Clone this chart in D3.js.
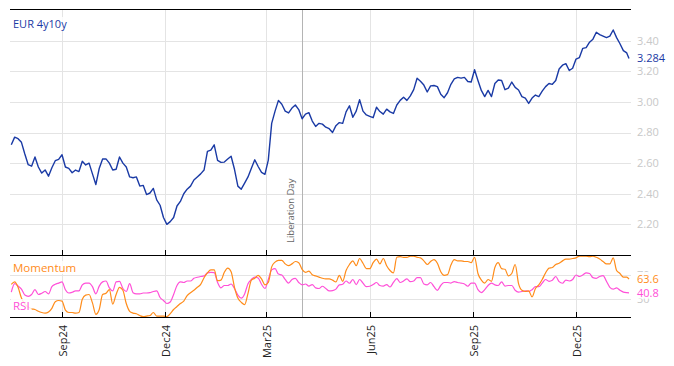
<!DOCTYPE html>
<html><head><meta charset="utf-8">
<script src="https://cdn.jsdelivr.net/npm/d3@7"></script>
<style>
html,body{margin:0;padding:0;background:#fff;}
svg{display:block;font-family:"Open Sans","Noto Sans",sans-serif;}
</style></head><body>
<svg id="chart" width="674" height="366"></svg>
<script>
const dates = [
"2024-07-18","2024-07-21","2024-07-24","2024-07-27","2024-07-30","2024-08-02","2024-08-05","2024-08-08","2024-08-11","2024-08-14",
"2024-08-17","2024-08-20","2024-08-23","2024-08-26","2024-08-29","2024-09-01","2024-09-04","2024-09-07","2024-09-10","2024-09-13",
"2024-09-16","2024-09-19","2024-09-22","2024-09-25","2024-09-28","2024-10-01","2024-10-04","2024-10-07","2024-10-10","2024-10-13",
"2024-10-16","2024-10-19","2024-10-22","2024-10-25","2024-10-28","2024-10-31","2024-11-03","2024-11-06","2024-11-09","2024-11-12",
"2024-11-15","2024-11-18","2024-11-21","2024-11-24","2024-11-27","2024-11-30","2024-12-03","2024-12-06","2024-12-09","2024-12-12",
"2024-12-15","2024-12-18","2024-12-21","2024-12-24","2024-12-27","2024-12-30","2025-01-02","2025-01-05","2025-01-08","2025-01-11",
"2025-01-14","2025-01-17","2025-01-20","2025-01-23","2025-01-26","2025-01-29","2025-02-01","2025-02-04","2025-02-07","2025-02-10",
"2025-02-13","2025-02-16","2025-02-19","2025-02-22","2025-02-25","2025-02-28","2025-03-03","2025-03-06","2025-03-09","2025-03-12",
"2025-03-15","2025-03-18","2025-03-21","2025-03-24","2025-03-27","2025-03-30","2025-04-02","2025-04-05","2025-04-08","2025-04-11",
"2025-04-14","2025-04-17","2025-04-20","2025-04-23","2025-04-26","2025-04-29","2025-05-02","2025-05-05","2025-05-08","2025-05-11",
"2025-05-14","2025-05-17","2025-05-20","2025-05-23","2025-05-26","2025-05-29","2025-06-01","2025-06-04","2025-06-07","2025-06-10",
"2025-06-13","2025-06-16","2025-06-19","2025-06-22","2025-06-25","2025-06-28","2025-07-01","2025-07-04","2025-07-07","2025-07-10",
"2025-07-13","2025-07-16","2025-07-19","2025-07-22","2025-07-25","2025-07-28","2025-07-31","2025-08-03","2025-08-06","2025-08-09",
"2025-08-12","2025-08-15","2025-08-18","2025-08-21","2025-08-24","2025-08-27","2025-08-30","2025-09-02","2025-09-05","2025-09-08",
"2025-09-11","2025-09-14","2025-09-17","2025-09-20","2025-09-23","2025-09-26","2025-09-29","2025-10-02","2025-10-05","2025-10-08",
"2025-10-11","2025-10-14","2025-10-17","2025-10-20","2025-10-23","2025-10-26","2025-10-29","2025-11-01","2025-11-04","2025-11-07",
"2025-11-10","2025-11-13","2025-11-16","2025-11-19","2025-11-22","2025-11-25","2025-11-28","2025-12-01","2025-12-04","2025-12-07",
"2025-12-10","2025-12-13","2025-12-16","2025-12-19","2025-12-22","2025-12-25","2025-12-28","2025-12-31","2026-01-03","2026-01-06",
"2026-01-09","2026-01-12","2026-01-15","2026-01-17"];

const eur4y10y = [
2.72,2.77,2.76,2.736,2.66,2.59,2.58,2.64,2.575,2.535,
2.556,2.515,2.57,2.616,2.625,2.655,2.575,2.566,2.537,2.555,
2.545,2.612,2.588,2.60,2.53,2.46,2.565,2.627,2.628,2.60,
2.555,2.56,2.64,2.60,2.575,2.51,2.505,2.51,2.45,2.455,
2.395,2.405,2.435,2.36,2.325,2.245,2.20,2.218,2.245,2.32,
2.35,2.40,2.43,2.45,2.49,2.51,2.53,2.555,2.677,2.685,
2.72,2.618,2.605,2.607,2.627,2.645,2.56,2.45,2.43,2.47,
2.51,2.567,2.622,2.578,2.54,2.527,2.62,2.86,2.94,3.01,
2.985,2.94,2.928,2.96,2.98,2.95,2.89,2.92,2.93,2.875,
2.84,2.86,2.855,2.835,2.825,2.80,2.845,2.865,2.86,2.935,
2.975,2.90,2.94,3.015,2.94,2.915,2.905,2.897,2.965,2.937,
2.92,2.953,2.935,2.925,2.98,3.01,3.03,3.01,3.04,3.08,
3.155,3.135,3.11,3.065,3.105,3.107,3.10,3.05,3.028,3.06,
3.115,3.15,3.16,3.155,3.16,3.133,3.13,3.21,3.14,3.075,
3.035,3.075,3.035,3.12,3.143,3.14,3.08,3.09,3.13,3.095,
3.078,3.035,3.025,2.99,3.025,3.045,3.035,3.07,3.10,3.12,
3.115,3.14,3.215,3.24,3.25,3.205,3.22,3.28,3.29,3.35,
3.355,3.39,3.41,3.455,3.44,3.43,3.42,3.43,3.47,3.42,
3.38,3.335,3.32,3.284];

const momentum = [
55,59,50,32,22,17,14,13,10,8,
7,9,15,26,28,27,12,8,8,7,
8,30,37,38,24,5,13,38,40,46,
22,38,50,45,23,10,7,6,3,1,
2,3,8,2,2,2,1,6,13,18,
23,27,36,41,45,50,55,66,74,79,
79,61,62,75,82,76,50,32,25,21,
40,62,65,70,64,54,58,84,92,95,
95,89,86,89,93,91,80,75,77,71,
69,67,65,64,64,62,59,70,60,78,
88,94,86,98,90,81,81,91,97,89,
98,86,78,74,100,101,100,100,102,102,
100,99,94,88,93,96,90,76,70,71,
87,96,94,94,93,93,91,100,73,62,
57,63,60,83,91,81,80,69,73,88,
56,45,43,44,34,48,54,63,74,82,
83,88,90,94,97,97,98,99,102,102,
102,101,102,100,97,93,89,89,99,78,
73,67,67,63.6];

const rsi = [
42,56,52,47,37,35,38,46,38,40,
43,39,51,55,57,59,46,40.5,41.7,44,
44,54,57,57,51,39,52,59,60.5,49,
44,59,60,48,43,56,41,39,39,40.5,
40.5,41,43,44,33,28,23,25.6,38,53,
59,58,60.5,60.5,65,66.7,68,69,74,75,
74.4,58,49,53,53,55.5,48,37,32,39,
56,63,67,65.5,55,48,63,79,81,72,
70.5,63,57,63,65,58,54,55.5,52,54.5,
49,48,51.7,48,44,44.5,47,54,55,60.5,
56.7,63,54.5,63,57,51,51.7,54.5,58,53,
52,54.5,50.5,58,64.4,58,60.5,64,59.4,60.5,
66,66,55.5,54,58,51,45,53,58,58,
57,59.4,58,57,55.5,51.7,57,57,46,41,
46,53,57,54,53,59,52,53,53,45,
42,43,44,43,46,51,51,57,63,60,
61.7,68,59.4,56.7,62,60.5,63,70.5,68,70.5,
74,73,66,65,68,69.4,60,50,47,49,
45,42,41,40.8];

const priceTicks = [2.2,2.4,2.6,2.8,3.0,3.2,3.4];
const indicatorTicks = [30,70];
const monthTickDates = ["2024-09-01","2024-12-01","2025-03-01","2025-06-01","2025-09-01","2025-12-01"];
const monthTickLabels = ["Sep24","Dec24","Mar25","Jun25","Sep25","Dec25"];
const eventDates = ["2025-04-02"];
const eventLabels = ["Liberation Day"];
const seriesName = "EUR 4y10y";
const momentumName = "Momentum";
const rsiName = "RSI";

const C_MAIN = "#1a3aa5", C_MOM = "#ff8c1a", C_RSI = "#ff50d8";
const GRID = "#e4e4e4", AXIS_TXT = "#c8c8c8";

const parse = d3.utcParse("%Y-%m-%d");
const xs = dates.map(parse);
const svg = d3.select("#chart");

const X0 = 10, X1 = 631;
const TOP = 9, MID = 255, BOT = 317;

const x = d3.scaleUtc().domain(d3.extent(xs)).range([11.3, 629]);
const yMain = d3.scaleLinear().domain([2.0, 3.607]).range([MID, TOP]);
const yInd = d3.scaleLinear().domain([0, 103.3]).range([BOT + 0.3, MID + 0.3]);

const tickX = monthTickDates.map(d => Math.round(x(parse(d))) + 0.5);

// grid
const g = svg.append("g");
g.selectAll(".hg").data(priceTicks).join("line")
  .attr("x1", X0).attr("x2", X1)
  .attr("y1", d => Math.round(yMain(d)) + 0.5).attr("y2", d => Math.round(yMain(d)) + 0.5)
  .attr("stroke", GRID);
g.selectAll(".hg2").data(indicatorTicks).join("line")
  .attr("x1", X0).attr("x2", X1)
  .attr("y1", d => Math.round(yInd(d)) + 0.5).attr("y2", d => Math.round(yInd(d)) + 0.5)
  .attr("stroke", GRID);
g.selectAll(".vg").data(tickX).join("line")
  .attr("x1", d => d).attr("x2", d => d)
  .attr("y1", TOP).attr("y2", BOT)
  .attr("stroke", GRID);

// event line
eventDates.forEach((d, i) => {
  const ex = Math.round(x(parse(d))) + 0.5;
  g.append("line").attr("x1", ex).attr("x2", ex).attr("y1", TOP).attr("y2", BOT)
    .attr("stroke", "#b4b4b4");
  g.append("text").attr("transform", `translate(${ex - 8.5},243) rotate(-90)`)
    .attr("font-size", 9.5).attr("fill", "#666").text(eventLabels[i]);
});

// series
const lineMain = d3.line().x((d, i) => x(xs[i])).y(d => yMain(d)).curve(d3.curveLinear);
const lineInd = d3.line().x((d, i) => x(xs[i])).y(d => yInd(d)).curve(d3.curveMonotoneX);

svg.append("path").datum(rsi).attr("d", lineInd)
  .attr("fill", "none").attr("stroke", C_RSI).attr("stroke-width", 1.2);
svg.append("path").datum(momentum).attr("d", lineInd)
  .attr("fill", "none").attr("stroke", C_MOM).attr("stroke-width", 1.2);
svg.append("path").datum(eur4y10y).attr("d", lineMain)
  .attr("fill", "none").attr("stroke", C_MAIN).attr("stroke-width", 1.4)
  .attr("stroke-linejoin", "round");

// borders and ticks
[TOP, MID, BOT].forEach(yy => {
  svg.append("line").attr("x1", X0).attr("x2", X1).attr("y1", yy + 0.5).attr("y2", yy + 0.5)
    .attr("stroke", "#000").attr("stroke-width", 1);
});
svg.selectAll(".tk1").data(tickX).join("line")
  .attr("x1", d => d).attr("x2", d => d).attr("y1", MID - 5).attr("y2", MID)
  .attr("stroke", "#000");
svg.selectAll(".tk2").data(tickX).join("line")
  .attr("x1", d => d).attr("x2", d => d).attr("y1", BOT - 5).attr("y2", BOT)
  .attr("stroke", "#000");

// month labels
svg.selectAll(".ml").data(monthTickLabels).join("text")
  .attr("transform", (d, i) => `translate(${tickX[i] + 4},325) rotate(-90)`)
  .attr("text-anchor", "end").attr("font-size", 11).attr("fill", "#222")
  .text(d => d);

// right axis labels
svg.selectAll(".pl").data(priceTicks).join("text")
  .attr("x", 637).attr("y", d => yMain(d)).attr("dy", "0.35em")
  .attr("font-size", 11).attr("fill", AXIS_TXT).text(d => d.toFixed(2));
svg.selectAll(".il").data(indicatorTicks).join("text")
  .attr("x", 637).attr("y", d => yInd(d)).attr("dy", "0.35em")
  .attr("font-size", 11).attr("fill", AXIS_TXT).text(d => d);

// label helper with white background
function label(txt, xx, yy, col, size, dy, op) {
  const t = svg.append("text").attr("x", xx).attr("y", yy).attr("font-size", size)
    .attr("fill", col).text(txt);
  if (dy) t.attr("dy", dy);
  const b = t.node().getBBox();
  svg.insert("rect", () => t.node())
    .attr("x", b.x - 2).attr("y", b.y + 1).attr("width", b.width + 4).attr("height", b.height - 2)
    .attr("fill", "#fff").attr("fill-opacity", op);
}

// last values
const last = a => a[a.length - 1];
label(last(eur4y10y).toFixed(3), 637, yMain(last(eur4y10y)), C_MAIN, 11, "0.35em", 0.9);
label(last(momentum).toFixed(1), 637, yInd(last(momentum)), C_MOM, 11, "0.35em", 0.9);
label(last(rsi).toFixed(1), 637, yInd(last(rsi)), C_RSI, 11, "0.35em", 0.9);

// legend labels
label(seriesName, 13, 28, C_MAIN, 11, null, 0.85);
label(momentumName, 13, 272, C_MOM, 11.5, null, 0.85);
label(rsiName, 13, 310, C_RSI, 11.5, null, 0.85);
</script>
</body></html>
